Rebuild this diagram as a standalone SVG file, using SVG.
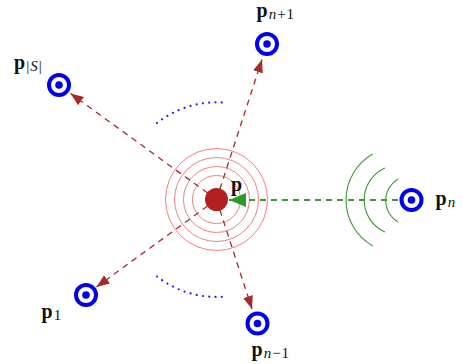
<svg xmlns="http://www.w3.org/2000/svg" width="463" height="364" viewBox="0 0 463 364">
<style>
.lbl{font-family:"Liberation Serif","DejaVu Serif",serif;font-size:20px;font-weight:bold;fill:#111}
.sub{font-size:15px;font-weight:normal}
.it{font-style:italic}
.ring{fill:none;stroke:#f08080;stroke-width:1}
.red{fill:none;stroke:#a52a2a;stroke-width:1.3;stroke-dasharray:6 5}
.grn{fill:none;stroke:#3c9a32;stroke-width:1.8;stroke-dasharray:6 5}
.arc{fill:none;stroke:#3c9a32;stroke-width:1.1}
.dot{fill:none;stroke:#1a1aee;stroke-width:2.2;stroke-linecap:round;stroke-dasharray:0 6.3}
.tgt{fill:none;stroke:#0000ee;stroke-width:4}
.tdot{fill:#0000ee}
</style>
<defs>
<marker id="ar" markerUnits="userSpaceOnUse" markerWidth="14" markerHeight="12" refX="13" refY="5" orient="auto" viewBox="0 0 14 10">
<path d="M0,0 L13,5 L0,10 Z" fill="#a52a2a"/>
</marker>
<marker id="ag" markerUnits="userSpaceOnUse" markerWidth="18" markerHeight="14" refX="17" refY="7" orient="auto" viewBox="0 0 18 14">
<path d="M0,0 L17,7 L0,14 Z" fill="#2e9a2e"/>
</marker>
</defs>
<g id="rings">
<circle class="ring" cx="216.5" cy="199.5" r="24"/>
<circle class="ring" cx="216.5" cy="199.5" r="33"/>
<circle class="ring" cx="216.5" cy="199.5" r="42"/>
<circle class="ring" cx="216.5" cy="199.5" r="51"/>
</g>
<g id="waves">
<path class="arc" d="M398,179 A25,25 0 0 0 398,222"/>
<path class="arc" d="M385,168 A35,35 0 0 0 385,232"/>
<path class="arc" d="M372.7,154 A53,53 0 0 0 372.7,246"/>
</g>
<g id="ellipsis">
<path class="dot" d="M157,123 A97,97 0 0 1 222.5,102.5"/>
<path class="dot" d="M157,276.5 A97,97 0 0 0 222.5,296.8"/>
</g>
<g id="connectors">
<line class="red" x1="216.5" y1="199.5" x2="262" y2="59.5" marker-end="url(#ar)"/>
<line class="red" x1="216.5" y1="199.5" x2="70.5" y2="93.5" marker-end="url(#ar)"/>
<line class="red" x1="216.5" y1="199.5" x2="96.5" y2="287" marker-end="url(#ar)"/>
<line class="red" x1="216.5" y1="199.5" x2="252" y2="309" marker-end="url(#ar)"/>
<line class="grn" x1="398" y1="200" x2="229" y2="200" marker-end="url(#ag)"/>
</g>
<g id="p">
<circle cx="216.5" cy="199.5" r="11.5" fill="#b02020"/>
<text class="lbl" x="231" y="191">p</text>
</g>
<g id="pn1">
<circle class="tgt" cx="267" cy="44" r="10"/>
<circle class="tdot" cx="267" cy="44" r="3.8"/>
<text class="lbl" x="256.5" y="17">p<tspan class="sub it" dx="1" dy="1.5">n</tspan><tspan class="sub" dx="1">+</tspan><tspan class="sub" dx="1">1</tspan></text>
</g>
<g id="pS">
<circle class="tgt" cx="59" cy="85" r="10"/>
<circle class="tdot" cx="59" cy="85" r="3.8"/>
<text class="lbl" x="14" y="69">p<tspan class="sub" dx="1" dy="1.5">|</tspan><tspan class="sub it" dx="1">S</tspan><tspan class="sub" dx="1">|</tspan></text>
</g>
<g id="p1">
<circle class="tgt" cx="86" cy="295" r="10"/>
<circle class="tdot" cx="86" cy="295" r="3.8"/>
<text class="lbl" x="41.5" y="318">p<tspan class="sub" dx="1" dy="2">1</tspan></text>
</g>
<g id="pnm1">
<circle class="tgt" cx="257.5" cy="323.5" r="10"/>
<circle class="tdot" cx="257.5" cy="323.5" r="3.8"/>
<text class="lbl" x="251.5" y="356">p<tspan class="sub it" dx="1" dy="1.5">n</tspan><tspan class="sub" dx="1">−</tspan><tspan class="sub" dx="1">1</tspan></text>
</g>
<g id="pn">
<circle class="tgt" cx="411.5" cy="200" r="10"/>
<circle class="tdot" cx="411.5" cy="200" r="3.8"/>
<text class="lbl" x="435.5" y="205">p<tspan class="sub it" dx="1" dy="2">n</tspan></text>
</g>
</svg>
